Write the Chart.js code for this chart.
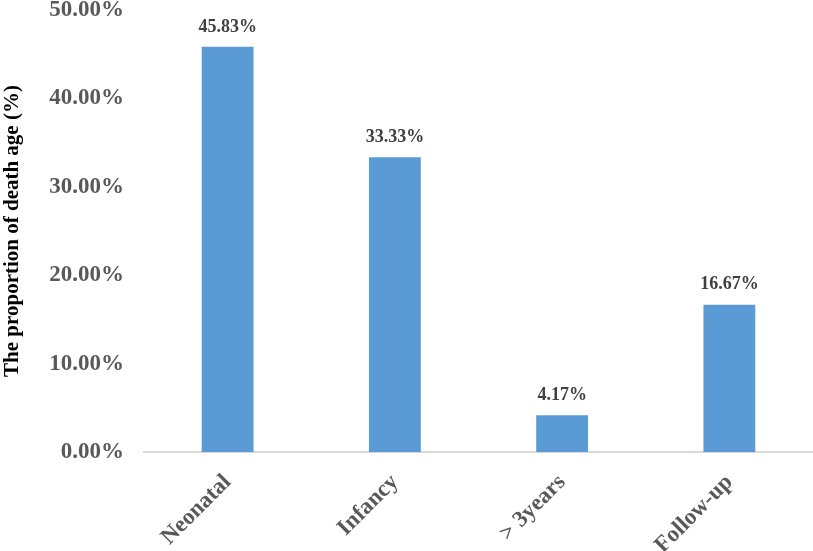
<!DOCTYPE html>
<html>
<head>
<meta charset="utf-8">
<script src="https://cdn.jsdelivr.net/npm/chart.js@4/dist/chart.umd.min.js"></script>
<style>
  html, body { margin: 0; padding: 0; background: #fff; }
  #wrap { width: 813px; height: 551px; position: relative; }
</style>
</head>
<body>
<div id="wrap"><canvas id="chart"></canvas></div>
<script>
// Data
const categories = ['Neonatal', 'Infancy', '> 3years', 'Follow-up'];
const deathShare = [45.83, 33.33, 4.17, 16.67];
const yTicks = [0, 10, 20, 30, 40, 50];

const serif = '"Liberation Serif", "Times New Roman", serif';

// value labels above each bar
const barLabels = {
    id: 'barLabels',
    afterDatasetsDraw(chart) {
        const ctx = chart.ctx;
        const meta = chart.getDatasetMeta(0);
        ctx.save();
        ctx.font = 'bold 18px ' + serif;
        ctx.fillStyle = '#404040';
        ctx.textAlign = 'center';
        ctx.textBaseline = 'bottom';
        meta.data.forEach(function(bar, i) {
            ctx.fillText(deathShare[i].toFixed(2) + '%', bar.x, bar.y - 11);
        });
        ctx.restore();
    }
};

new Chart(document.getElementById('chart'), {
    type: 'bar',
    data: {
        labels: categories,
        datasets: [{
            data: deathShare,
            backgroundColor: '#5B9BD5',
            categoryPercentage: 1,
            barPercentage: 0.31
        }]
    },
    options: {
        responsive: true,
        maintainAspectRatio: false,
        animation: false,
        layout: { padding: 0 },
        plugins: {
            legend: { display: false },
            tooltip: { enabled: false }
        },
        scales: {
            x: {
                grid: { display: false, drawTicks: false },
                border: { display: true, color: '#d9d9d9', width: 2 },
                ticks: {
                    color: '#595959',
                    font: { family: serif, size: 23, weight: 'bold' },
                    maxRotation: 45,
                    minRotation: 45,
                    padding: 17
                },
                afterFit(scale) { scale.height = 99; }
            },
            y: {
                min: 0,
                max: 50,
                afterBuildTicks(scale) {
                    scale.ticks = yTicks.map(v => ({ value: v }));
                },
                grid: { display: false, drawTicks: false },
                border: { display: false },
                ticks: {
                    color: '#595959',
                    font: { family: serif, size: 23, weight: 'bold' },
                    padding: 20,
                    callback: v => v.toFixed(2) + '%'
                },
                title: {
                    display: true,
                    text: 'The proportion of death age (%)',
                    color: '#000',
                    font: { family: serif, size: 21, weight: 'bold' },
                    padding: { top: 0, bottom: 0 }
                },
                afterFit(scale) {
                    scale.width = 144;
                    scale.paddingTop = 10;
                    scale.paddingBottom = 0;
                }
            }
        }
    },
    plugins: [barLabels]
});
</script>
</body>
</html>
